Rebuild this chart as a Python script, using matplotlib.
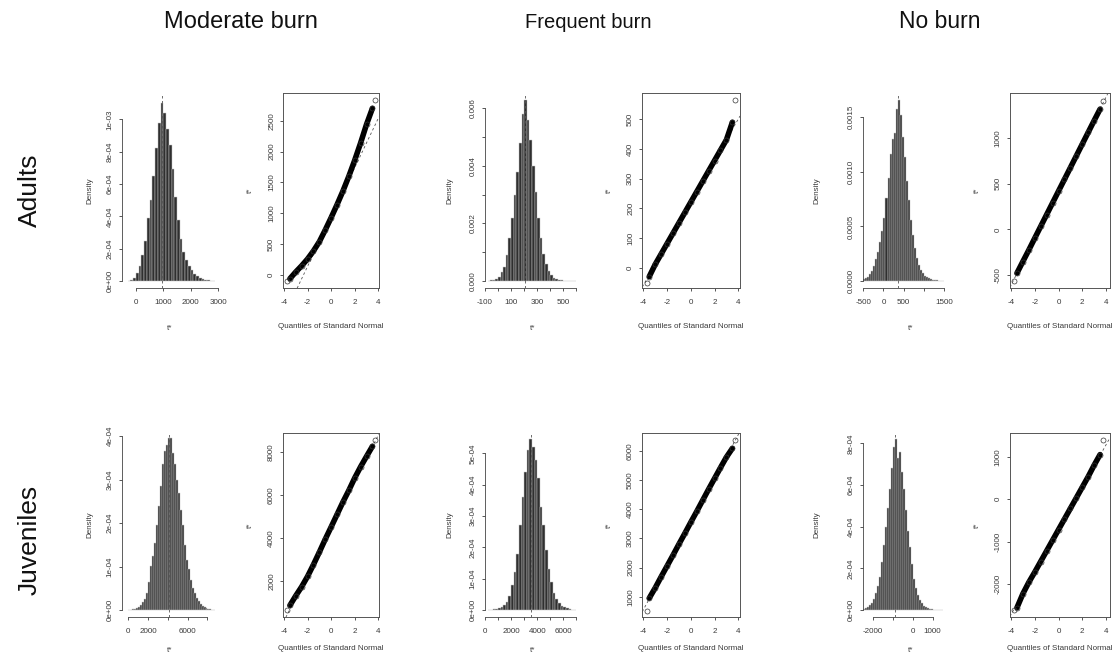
import numpy as np
import matplotlib
matplotlib.use('Agg')
import matplotlib.pyplot as plt

plt.rcParams['font.family'] = ['Liberation Sans', 'DejaVu Sans']

W, H = 1114, 659

COLUMNS = ['Moderate burn', 'Frequent burn', 'No burn']
ROWS = ['Adults', 'Juveniles']

# ---- histogram data (bin start, bin width, densities) ----
MB_AD_START, MB_AD_WIDTH = -300, 100
MB_AD_DENS = np.array([0.03, 0.08, 0.2, 0.5, 0.9, 1.6, 2.5, 3.9, 5.0, 6.5, 8.2, 9.8, 11.0, 10.4, 9.4,
                       8.4, 6.9, 5.2, 3.8, 2.6, 1.8, 1.3, 0.9, 0.65, 0.45, 0.3, 0.2, 0.13, 0.08, 0.05,
                       0.03, 0.02]) * 1e-4
FB_AD_START, FB_AD_WIDTH = -80, 20
FB_AD_DENS = np.array([0.01, 0.02, 0.04, 0.08, 0.15, 0.3, 0.5, 0.9, 1.5, 2.2, 3.0, 3.8, 4.8, 5.8, 6.3,
                       5.6, 4.9, 4.0, 3.1, 2.2, 1.5, 0.95, 0.6, 0.35, 0.2, 0.12, 0.07, 0.04, 0.02,
                       0.01, 0.01, 0.005, 0.005, 0.005]) * 1e-3
NB_AD_START, NB_AD_WIDTH = -700, 50
NB_AD_DENS = np.array([0.05, 0.05, 0.1, 0.1, 0.15, 0.25, 0.4, 0.6, 0.9, 1.4, 2.0, 2.7, 3.6, 4.6, 5.8,
                       7.6, 9.4, 11.6, 13.0, 13.6, 15.8, 16.6, 15.2, 13.2, 11.4, 9.2, 7.4, 5.6, 4.2,
                       3.0, 2.1, 1.5, 1.0, 0.7, 0.5, 0.35, 0.25, 0.15, 0.1, 0.08, 0.05, 0.04, 0.03,
                       0.02]) * 1e-4
MB_JU_START, MB_JU_WIDTH = 0, 200
MB_JU_DENS = np.array([0.1, 0.1, 0.2, 0.3, 0.5, 0.8, 1.2, 1.8, 2.6, 4.0, 6.5, 10.2, 12.5, 15.5, 19.5,
                       24.0, 28.5, 33.5, 36.5, 38.0, 39.5, 39.5, 36.0, 33.5, 30.0, 27.0, 23.0, 19.5,
                       15.0, 11.5, 9.5, 7.0, 5.0, 3.8, 2.8, 2.0, 1.4, 0.9, 0.6, 0.4, 0.25, 0.15, 0.1,
                       0.05]) * 1e-5
FB_JU_START, FB_JU_WIDTH = 200, 200
FB_JU_DENS = np.array([0.1, 0.1, 0.2, 0.3, 0.5, 0.9, 1.5, 2.5, 4.5, 8.0, 12.0, 18.0, 27.0, 36.0, 44.0,
                       51.0, 54.5, 52.0, 48.0, 42.0, 33.0, 27.0, 19.0, 13.0, 9.0, 5.5, 3.5, 2.3, 1.4,
                       0.9, 0.5, 0.3, 0.15, 0.1]) * 1e-5
NB_JU_START, NB_JU_WIDTH = -2800, 100
NB_JU_DENS = np.array([0.2, 0.2, 0.4, 0.6, 1.0, 1.5, 2.2, 3.5, 5.5, 8.0, 11.5, 16.0, 23.0, 31.0, 40.0,
                       49.0, 58.0, 68.0, 78.0, 82.0, 73.0, 76.0, 66.0, 58.0, 48.0, 38.0, 30.0, 22.0,
                       15.0, 10.5, 7.0, 4.8, 3.2, 2.0, 1.3, 0.8, 0.5, 0.3, 0.2, 0.15, 0.1, 0.05,
                       0.05]) * 1e-5

# observed statistic t0 (dashed line in histograms)
T0 = [940, 205, 350, 4140, 3500, -870]

# ---- normal QQ data ----
QQ_Q = [-3.72, -3.5, -3.0, -2.5, -2.0, -1.5, -1.0, -0.5, 0.0, 0.5, 1.0, 1.5, 2.0, 2.5, 3.0, 3.5, 3.72]
MB_AD_QQ = [-99, -60, 50, 150, 260, 390, 540, 730, 930, 1140, 1360, 1600, 1860, 2140, 2440, 2700, 2828]
FB_AD_QQ = [-51, -30, 11, 46, 81, 116, 151, 186, 221, 256, 291, 326, 361, 396, 431, 490, 564]
NB_AD_QQ = [-567, -480, -352, -226, -96, 33, 162, 291, 420, 549, 678, 807, 936, 1065, 1194, 1320, 1414]
MB_JU_QQ = [630, 850, 1300, 1720, 2200, 2750, 3330, 3930, 4500, 5080, 5660, 6200, 6780, 7300, 7780, 8250, 8560]
FB_JU_QQ = [495, 950, 1300, 1680, 2050, 2420, 2800, 3170, 3550, 3920, 4300, 4680, 5050, 5420, 5780, 6080, 6380]
NB_JU_QQ = [-2624, -2560, -2230, -1960, -1720, -1470, -1220, -970, -720, -470, -220, 30, 280, 530, 800,
            1050, 1405]
# reference line (mean, sd) of the bootstrap replicates
QQ_MEAN = [940, 221, 420, 4450, 3550, -720]
QQ_SD = [400, 70, 258, 1080, 750, 500]

# ---- ticks ----
HIST_XTICKS = [[0, 1000, 2000, 3000], list(range(-100, 700, 100)), [-500, 0, 500, 1000, 1500],
               [0, 2000, 4000, 6000, 8000], list(range(0, 8000, 1000)), [-2000, -1000, 0, 1000]]
HIST_XLABELS = [['0', '1000', '2000', '3000'], ['-100', '', '100', '', '300', '', '500', ''],
                ['-500', '0', '500', '', '1500'], ['0', '2000', '', '6000', ''],
                ['0', '', '2000', '', '4000', '', '6000', ''], ['-2000', '', '0', '1000']]
HIST_YTICKS = [[0, 2e-4, 4e-4, 6e-4, 8e-4, 1e-3], [0, 0.001, 0.002, 0.003, 0.004, 0.005, 0.006],
               [0, 0.0005, 0.001, 0.0015], [0, 1e-4, 2e-4, 3e-4, 4e-4],
               [0, 1e-4, 2e-4, 3e-4, 4e-4, 5e-4], [0, 2e-4, 4e-4, 6e-4, 8e-4]]
HIST_YLABELS = [['0e+00', '2e-04', '4e-04', '6e-04', '8e-04', '1e-03'],
                ['0.000', '', '0.002', '', '0.004', '', '0.006'],
                ['0.0000', '0.0005', '0.0010', '0.0015'],
                ['0e+00', '1e-04', '2e-04', '3e-04', '4e-04'],
                ['0e+00', '1e-04', '2e-04', '3e-04', '4e-04', '5e-04'],
                ['0e+00', '2e-04', '4e-04', '6e-04', '8e-04']]
QQ_XTICKS = [-4, -2, 0, 2, 4]
QQ_YTICKS = [[0, 500, 1000, 1500, 2000, 2500], [0, 100, 200, 300, 400, 500], [-500, 0, 500, 1000],
             [2000, 4000, 6000, 8000], [1000, 2000, 3000, 4000, 5000, 6000], [-2000, -1000, 0, 1000]]

# ---- layout in pixels ----
HIST_X = [(122, 218), (485, 581), (862.7, 959)]
QQ_X = [(283.3, 379), (642.3, 740), (1010, 1110)]
ROW_Y = [(93.3, 288.3), (432.7, 617.3)]
HIST_XCAL = [((0, 136), (3000, 218.3)), ((-100, 485), (500, 563.3)), ((-500, 863.3), (1500, 944)),
             ((0, 128.3), (6000, 187.7)), ((0, 485), (6000, 563.3)), ((-2000, 872.7), (1000, 932.7))]
HIST_YCAL = [((0, 281), (1e-3, 119.3)), ((0, 281), (0.006, 108.3)), ((0, 281), (0.0015, 117.3)),
             ((0, 610), (4e-4, 436)), ((0, 610), (5e-4, 453.3)), ((0, 610), (8e-4, 443.3))]
QQ_XCAL = [((-4, 284), (4, 378.3)), ((-4, 643.3), (4, 738.3)), ((-4, 1011), (4, 1106))] * 2
QQ_YCAL = [((0, 275), (2500, 120.7)), ((0, 267.7), (500, 119.3)), ((-500, 275), (1000, 138.3)),
           ((2000, 580.7), (8000, 451.7)), ((1000, 596.7), (6000, 450.7)), ((-2000, 584), (1000, 456.7))]
DENSITY_X = [90, 450, 816.7]
XLABEL_Y = [328, 650]
TITLE_X = [241, 588, 940]
TITLE_SIZE = [17, 14.5, 16.5]
ROW_LABEL_Y = [190, 540]

TXT = '#3a3a3a'
FS = 5.8


def lims(cal, pa, pb):
    (v0, p0), (v1, p1) = cal
    s = (v1 - v0) / (p1 - p0)
    return v0 + (pa - p0) * s, v0 + (pb - p0) * s


def px_axes(fig, x0, x1, y0, y1):
    return fig.add_axes([x0 / W, 1 - y1 / H, (x1 - x0) / W, (y1 - y0) / H])


def ftext(fig, x, y, s, **kw):
    fig.text(x / W, 1 - y / H, s, ha='center', va='center', **kw)


def style_ticks(ax):
    ax.tick_params(axis='both', labelsize=FS, colors=TXT, length=2.4, width=0.6)
    ax.tick_params(axis='x', pad=5.5)
    ax.tick_params(axis='y', pad=3.5)
    for lab in ax.get_yticklabels():
        lab.set_rotation(90)
        lab.set_va('center')


fig = plt.figure(figsize=(W / 100, H / 100), dpi=100)

hists = [(MB_AD_START, MB_AD_WIDTH, MB_AD_DENS), (FB_AD_START, FB_AD_WIDTH, FB_AD_DENS),
         (NB_AD_START, NB_AD_WIDTH, NB_AD_DENS), (MB_JU_START, MB_JU_WIDTH, MB_JU_DENS),
         (FB_JU_START, FB_JU_WIDTH, FB_JU_DENS), (NB_JU_START, NB_JU_WIDTH, NB_JU_DENS)]
qqs = [MB_AD_QQ, FB_AD_QQ, NB_AD_QQ, MB_JU_QQ, FB_JU_QQ, NB_JU_QQ]

for k in range(6):
    r, c = divmod(k, 3)
    y0, y1 = ROW_Y[r]

    # histogram
    hx0, hx1 = HIST_X[c]
    ax = px_axes(fig, hx0, hx1, y0, y1)
    start, width, dens = hists[k]
    edges = start + width * np.arange(len(dens))
    ax.bar(edges, dens, width=width, align='edge', color='#2f2f2f', edgecolor='#c4c4c4',
           linewidth=0.35)
    ax.axvline(T0[k], ls=(0, (3, 3)), lw=0.6, color='#555555')
    ax.set_xlim(lims(HIST_XCAL[k], hx0, hx1))
    ax.set_ylim(lims(HIST_YCAL[k], y1, y0))
    ax.set_xticks(HIST_XTICKS[k], HIST_XLABELS[k])
    ax.set_yticks(HIST_YTICKS[k], HIST_YLABELS[k])
    for side in ['top', 'right']:
        ax.spines[side].set_visible(False)
    ax.spines['left'].set_bounds(HIST_YTICKS[k][0], HIST_YTICKS[k][-1])
    ax.spines['bottom'].set_bounds(HIST_XTICKS[k][0], HIST_XTICKS[k][-1])
    for side in ['left', 'bottom']:
        ax.spines[side].set_linewidth(0.6)
        ax.spines[side].set_color('#444444')
    ax.patch.set_alpha(0)
    style_ticks(ax)
    ftext(fig, DENSITY_X[c], (y0 + y1) / 2, 'Density', rotation=90, fontsize=FS, color=TXT)
    ftext(fig, (hx0 + hx1) / 2, XLABEL_Y[r], 't*', fontsize=FS, color=TXT)

    # normal QQ plot
    qx0, qx1 = QQ_X[c]
    ax = px_axes(fig, qx0, qx1, y0, y1)
    vals = qqs[k]
    ax.axline((0, QQ_MEAN[k]), slope=QQ_SD[k], ls=(0, (3, 3)), lw=0.6, color='#555555', zorder=1)
    ax.plot(QQ_Q[1:-1], vals[1:-1], color='black', lw=4.0, solid_capstyle='round', zorder=2)
    ax.plot(QQ_Q, vals, ls='none', marker='o', ms=3.6, mfc='none', mec='#333333', mew=0.5, zorder=3)
    ax.set_xlim(lims(QQ_XCAL[k], qx0, qx1))
    ax.set_ylim(lims(QQ_YCAL[k], y1, y0))
    ax.set_xticks(QQ_XTICKS, [str(v) for v in QQ_XTICKS])
    ax.set_yticks(QQ_YTICKS[k], [str(v) for v in QQ_YTICKS[k]])
    for side in ax.spines:
        ax.spines[side].set_linewidth(0.7)
        ax.spines[side].set_color('#555555')
    style_ticks(ax)
    ftext(fig, qx0 - 33, (y0 + y1) / 2, 't*', rotation=90, fontsize=FS, color=TXT)
    ftext(fig, (qx0 + qx1) / 2, XLABEL_Y[r] - 1.5, 'Quantiles of Standard Normal', fontsize=FS, color=TXT)

for c, name in enumerate(COLUMNS):
    ftext(fig, TITLE_X[c], 22, name, fontsize=TITLE_SIZE[c], color='#111111')
for r, name in enumerate(ROWS):
    ftext(fig, 30, ROW_LABEL_Y[r], name, rotation=90, fontsize=19, color='#111111')

fig.savefig('out.png', dpi=100)
